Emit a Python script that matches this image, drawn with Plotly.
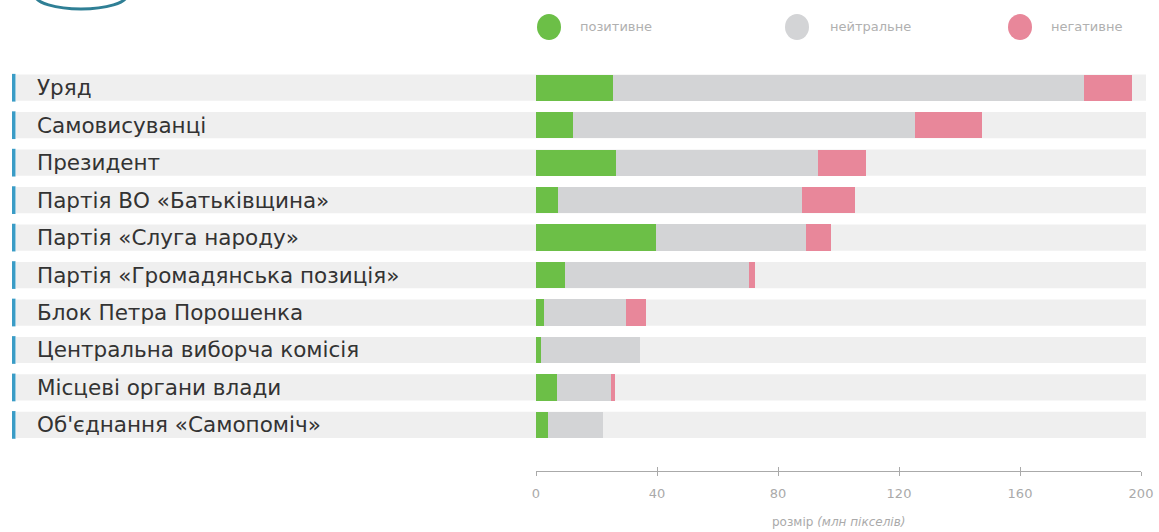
import plotly.graph_objects as go

categories = ["Уряд", "Самовисуванці", "Президент", "Партія ВО «Батьківщина»",
              "Партія «Слуга народу»", "Партія «Громадянська позиція»",
              "Блок Петра Порошенка", "Центральна виборча комісія",
              "Місцеві органи влади", "Об'єднання «Самопоміч»"]
positive = [25.3, 12.3, 26.4, 7.2, 39.8, 9.6, 2.8, 1.5, 6.9, 3.9]
neutral = [155.7, 112.9, 66.8, 80.7, 49.5, 60.7, 26.9, 32.8, 17.9, 18.2]
negative = [16.0, 22.2, 16.0, 17.6, 8.1, 2.2, 6.6, 0.0, 1.3, 0.0]
series_names = ["позитивне", "нейтральне", "негативне"]
tick_vals = [0, 40, 80, 120, 160, 200]
axis_title = "розмір <i>(млн пікселів)</i>"

colors = ["#6cbf47", "#d3d4d6", "#e8879a"]
W, H = 1159, 532
L, R, T, B = 536, 18, 69, 61
PW, PH = W - L - R, H - T - B


def px(x):
    return (x - L) / PW


def py(y):
    return (H - B - y) / PH


fig = go.Figure()
for name, vals, col in zip(series_names, [positive, neutral, negative], colors):
    fig.add_trace(go.Bar(y=categories, x=vals, orientation="h", name=name,
                         marker=dict(color=col, line=dict(width=0)),
                         showlegend=False, hoverinfo="x+y"))

shapes = []
annotations = []
for i, cat in enumerate(categories):
    shapes.append(dict(type="rect", xref="paper", yref="y", x0=px(16), x1=px(1146),
                       y0=i - 0.35, y1=i + 0.35, fillcolor="#efefef",
                       line=dict(width=0), layer="below"))
    shapes.append(dict(type="rect", xref="paper", yref="y", x0=px(12), x1=px(15.5),
                       y0=i - 0.37, y1=i + 0.37, fillcolor="#3a9cc6",
                       line=dict(width=0), layer="below"))
    annotations.append(dict(text=cat, xref="paper", yref="y", x=px(35), y=i,
                            xanchor="left", yanchor="middle", showarrow=False,
                            font=dict(family="DejaVu Sans", size=21.5, color="#333333")))

# legend (circles + labels)
leg_x = [537, 785, 1008]
leg_tx = [578, 828, 1049]
for name, col, cx, tx in zip(series_names, colors, leg_x, leg_tx):
    shapes.append(dict(type="circle", xref="paper", yref="paper", x0=px(cx), x1=px(cx + 24),
                       y0=py(40), y1=py(14), fillcolor=col, line=dict(width=0)))
    annotations.append(dict(text=name, xref="paper", yref="paper", x=px(tx), y=py(27),
                            xanchor="left", yanchor="middle", showarrow=False,
                            font=dict(family="DejaVu Sans", size=13, color="#b0b0b0")))

# logo arc top-left
shapes.append(dict(type="circle", xref="paper", yref="paper", x0=px(35), x1=px(127),
                   y0=py(9), y1=py(-19), fillcolor="rgba(0,0,0,0)",
                   line=dict(color="#2f7f95", width=3)))

annotations.append(dict(text=axis_title, xref="paper", yref="paper", x=0.5, y=py(522),
                        xanchor="center", yanchor="middle", showarrow=False,
                        font=dict(family="DejaVu Sans", size=12, color="#aaaaaa")))

fig.update_layout(
    width=W, height=H, margin=dict(l=L, r=R, t=T, b=B, autoexpand=False),
    barmode="stack", bargap=0.3,
    plot_bgcolor="white", paper_bgcolor="white",
    shapes=shapes, annotations=annotations,
    xaxis=dict(range=[0, 200], tickvals=tick_vals, showgrid=False, zeroline=False,
               showline=True, linecolor="#aaaaaa", linewidth=1,
               ticks="outside", ticklen=4, tickcolor="#aaaaaa",
               ticklabelstandoff=6,
               tickfont=dict(family="DejaVu Sans", size=13, color="#aaaaaa")),
    xaxis2=dict(range=[0, 200], tickvals=tick_vals, overlaying="x", anchor="y",
                side="bottom", showgrid=False, zeroline=False, showline=False,
                ticks="inside", ticklen=4, tickcolor="#aaaaaa", showticklabels=False),
    yaxis=dict(type="category", categoryorder="array", categoryarray=categories,
               range=[10.23, -0.5], showticklabels=False, showgrid=False,
               zeroline=False, showline=False, ticks=""),
    showlegend=False,
)
fig.add_trace(go.Scatter(x=[None], y=[None], xaxis="x2", yaxis="y", showlegend=False,
                         hoverinfo="skip"))

fig.write_html("out.html", config={"displayModeBar": False},
               post_script="document.body.style.margin='0';document.body.style.overflow='hidden';")
